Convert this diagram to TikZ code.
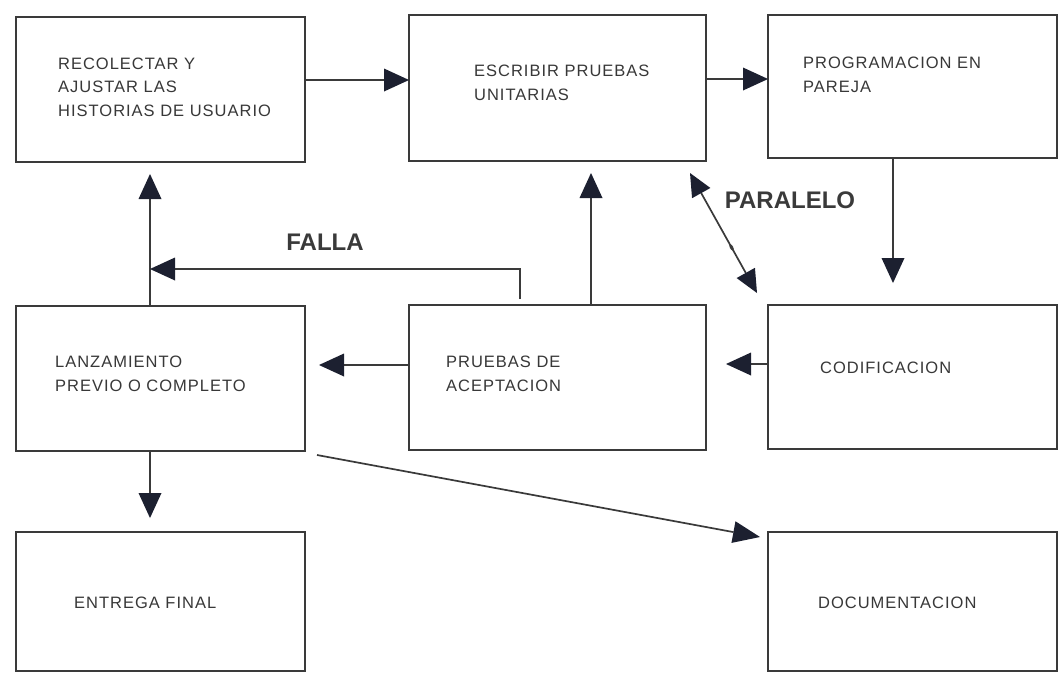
\documentclass[tikz,border=0pt]{standalone}
\usepackage{fontspec}
\setmainfont{Liberation Sans}
\newfontfamily\boxfont{Liberation Sans}[LetterSpace=6]
\usetikzlibrary{arrows.meta,calc,shapes.geometric}

\definecolor{frame}{HTML}{3A3A3A}
\definecolor{ink}{HTML}{383838}
\definecolor{head}{HTML}{1C2030}

\tikzset{
  box/.style={draw=frame, line width=2.5pt, inner sep=0pt, outer sep=0pt,
              minimum width=#1, fill=white},
  lbl/.style={font=\boxfont\fontsize{16.5}{23.5}\selectfont, text=ink,
              align=left, anchor=west, inner sep=0pt},
  tag/.style={font=\bfseries\fontsize{24}{28}\selectfont, text=frame, inner sep=0pt},
  arr/.style={draw=frame, line width=2.3pt,
              -{Triangle[length=25pt,width=23pt,fill=head,line width=0pt]}},
  thin/.style={draw=frame, line width=1.7pt},
}

\begin{document}
\begin{tikzpicture}[x=1pt, y=-1pt]
\useasboundingbox (0,0) rectangle (1059,673);
\fill[white] (0,0) rectangle (1059,673);

% process boxes
\node[box=289pt, minimum height=145pt] (b1) at (160.5,89.5) {};
\node[box=297pt, minimum height=146pt] (b2) at (557.5,88) {};
\node[box=289pt, minimum height=143pt] (b3) at (912.5,86.5) {};
\node[box=289pt, minimum height=145pt] (b4) at (160.5,378.5) {};
\node[box=297pt, minimum height=145pt] (b5) at (557.5,377.5) {};
\node[box=289pt, minimum height=144pt] (b6) at (912.5,377) {};
\node[box=289pt, minimum height=139pt] (b7) at (160.5,601.5) {};
\node[box=289pt, minimum height=139pt] (b8) at (912.5,601.5) {};

% box captions
\node[lbl] (t1) at (58,87) {RECOLECTAR Y\\AJUSTAR LAS\\HISTORIAS DE USUARIO};
\node[lbl] (t2) at (474,83) {ESCRIBIR PRUEBAS\\UNITARIAS};
\node[lbl] (t3) at (803,75) {PROGRAMACION EN\\PAREJA};
\node[lbl] (t4) at (55,374) {LANZAMIENTO\\PREVIO O COMPLETO};
\node[lbl] (t5) at (446,374) {PRUEBAS DE\\ACEPTACION};
\node[lbl] (t6) at (820,368) {CODIFICACION};
\node[lbl] (t7) at (74,603) {ENTREGA FINAL};
\node[lbl] (t8) at (818,603) {DOCUMENTACION};

% flow labels
\node[tag] (falla) at (325,242) {FALLA};
\node[tag] (paralelo) at (790,200) {PARALELO};

% anchor points for the connectors
\coordinate (p12) at ([yshift=9.5pt]b1.east);
\coordinate (p23) at ([yshift=9pt]b2.east);
\coordinate (p36) at ([xshift=-19.5pt]b3.south);
\coordinate (p65) at ([yshift=13pt]b6.west);
\coordinate (p54) at ([yshift=12.5pt]b5.west);
\coordinate (p52) at ([xshift=33.5pt]b5.north);
\coordinate (p41) at ([xshift=-10.5pt]b4.north);
\coordinate (p47) at ([xshift=-10.5pt]b4.south);
\coordinate (pf)  at ($(b5.north west)+(111,0)$);
\coordinate (fj)  at (150,269);
\coordinate (ds)  at ($(b4.south east)+(12,4)$);
\coordinate (de)  at ($(b8.north west)+(-8,5)$);
\coordinate (pa)  at ($(b2.south east)+(-16,12)$);
\coordinate (pb)  at ($(b6.north west)+(-11,-12)$);

% main flow
\draw[arr] (p12) -- (p12 -| b2.west);
\draw[arr] (p23) -- (p23 -| b3.west);
\draw[arr, shorten >=22pt] (p36) -- (p36 |- b6.north);
\draw[arr, shorten >=20pt] (p65) -- (p65 -| b5.east);
\draw[arr, shorten >=14pt] (p54) -- (p54 -| b4.east);
\draw[arr, shorten >=12pt] (p52) -- (p52 |- b2.south);
\draw[arr, shorten >=12pt] (p41) -- (p41 |- b1.south);
\draw[arr, shorten >=14pt] (p47) -- (p47 |- b7.north);

% failure loop back to the stories
\draw[arr, shorten <=6pt] (pf) -- (pf |- fj) -- (fj);

% release to documentation
\draw[thin, -{Triangle[length=27pt,width=22pt,fill=head,line width=0pt]}] (ds) -- (de);

% pair programming runs in parallel with coding
\draw[thin, {Triangle[length=23pt,width=21pt,fill=head,line width=0pt]}-{Triangle[length=23pt,width=21pt,fill=head,line width=0pt]}]
  (pa) -- node[pos=0.62, sloped, ellipse, fill=frame, inner xsep=2.4pt, inner ysep=1.2pt] (knot) {} (pb);
\end{tikzpicture}
\end{document}
